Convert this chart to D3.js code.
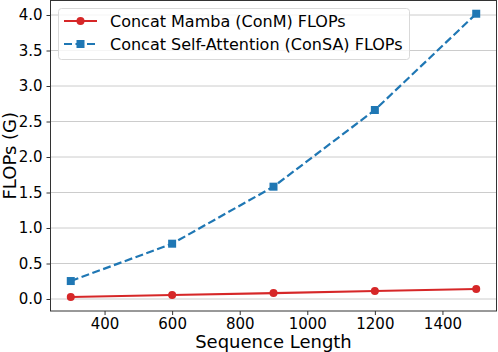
<!DOCTYPE html>
<html><head><meta charset="utf-8">
<script src="https://cdn.jsdelivr.net/npm/d3@7"></script>
<style>body{margin:0;background:#fff}svg{display:block}text{font-family:"DejaVu Sans",sans-serif}</style>
</head><body>
<svg id="c" width="498" height="352"></svg>
<script>
const seqLengths = [300, 600, 900, 1200, 1500];
const mambaFlops = [0.028, 0.056, 0.083, 0.113, 0.141];
const saFlops = [0.253, 0.779, 1.582, 2.662, 4.018];
const xTicks = [400, 600, 800, 1000, 1200, 1400];
const yTicks = [0.0, 0.5, 1.0, 1.5, 2.0, 2.5, 3.0, 3.5, 4.0];
const seriesNames = ["Concat Mamba (ConM) FLOPs", "Concat Self-Attention (ConSA) FLOPs"];

const svg = d3.select("#c");
const L = 50.5, R = 496.5, T = 0.5, B = 311;
const x = d3.scaleLinear().domain([240, 1560]).range([L, R]);
const y = d3.scaleLinear().domain([0, 4]).range([299, 15]);

// grid
svg.append("g").selectAll("line").data(yTicks).join("line")
  .attr("x1", L).attr("x2", R).attr("y1", d => y(d)).attr("y2", d => y(d))
  .attr("stroke", "#cccccc").attr("stroke-width", 1);

// axes
const xa = svg.append("g").attr("transform", `translate(0,${B})`)
  .call(d3.axisBottom(x).tickValues(xTicks).tickFormat(d3.format("d")).tickSize(4).tickPadding(3));
const ya = svg.append("g").attr("transform", `translate(${L},0)`)
  .call(d3.axisLeft(y).tickValues(yTicks).tickFormat(d3.format(".1f")).tickSize(4).tickPadding(4));
[xa, ya].forEach(a => {
  a.selectAll("text").attr("font-size", 15).attr("fill", "#000").attr("font-family", "DejaVu Sans");
  a.selectAll("line").attr("stroke", "#333");
  a.select(".domain").remove();
});
// spines
svg.append("rect").attr("x", L).attr("y", T).attr("width", R - L).attr("height", B - T)
  .attr("fill", "none").attr("stroke", "#333").attr("stroke-width", 1);

// lines
const line = d3.line().x((d, i) => x(seqLengths[i])).y(d => y(d));
svg.append("path").datum(saFlops).attr("d", line).attr("fill", "none")
  .attr("stroke", "#1f77b4").attr("stroke-width", 2.2).attr("stroke-dasharray", "8,3.5");
svg.append("g").selectAll("rect").data(saFlops).join("rect")
  .attr("x", (d, i) => x(seqLengths[i]) - 4).attr("y", d => y(d) - 4)
  .attr("width", 8).attr("height", 8).attr("fill", "#1f77b4");
svg.append("path").datum(mambaFlops).attr("d", line).attr("fill", "none")
  .attr("stroke", "#d62728").attr("stroke-width", 2.2);
svg.append("g").selectAll("circle").data(mambaFlops).join("circle")
  .attr("cx", (d, i) => x(seqLengths[i])).attr("cy", d => y(d)).attr("r", 4)
  .attr("fill", "#d62728");

// labels
svg.append("text").attr("x", (L + R) / 2).attr("y", 348).attr("text-anchor", "middle")
  .attr("font-size", 18).text("Sequence Length");
svg.append("text").attr("transform", `translate(16,${(T + B) / 2}) rotate(-90)`)
  .attr("text-anchor", "middle").attr("font-size", 18).text("FLOPs (G)");

// legend
const lg = svg.append("g");
lg.append("rect").attr("x", 58.5).attr("y", 8.5).attr("width", 351).attr("height", 51).attr("rx", 3)
  .attr("fill", "#fff").attr("fill-opacity", 0.8).attr("stroke", "#d9d9d9");
const colors = ["#d62728", "#1f77b4"];
seriesNames.forEach((n, i) => {
  const yy = 21 + i * 23;
  lg.append("line").attr("x1", 64).attr("x2", 97).attr("y1", yy).attr("y2", yy)
    .attr("stroke", colors[i]).attr("stroke-width", 2.2).attr("stroke-dasharray", i ? "8,3.5" : null);
  if (i === 0) lg.append("circle").attr("cx", 80.5).attr("cy", yy).attr("r", 4).attr("fill", colors[i]);
  else lg.append("rect").attr("x", 76.5).attr("y", yy - 4).attr("width", 8).attr("height", 8).attr("fill", colors[i]);
  lg.append("text").attr("x", 110).attr("y", yy).attr("dy", "0.35em").attr("font-size", 16).text(n);
});
</script>
</body></html>
